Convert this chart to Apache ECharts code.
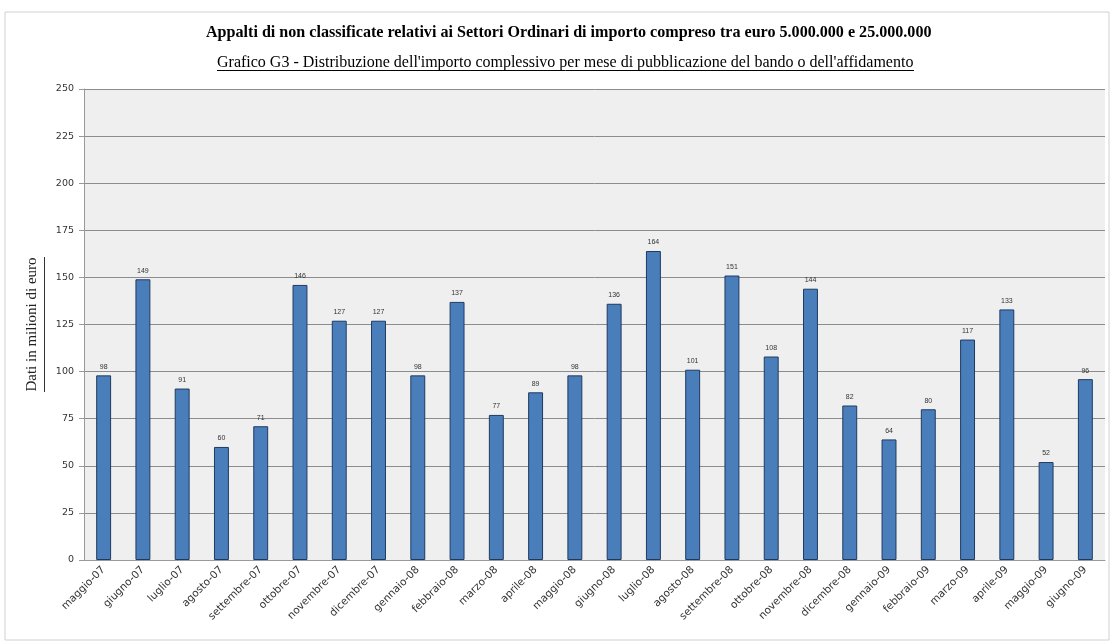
<!DOCTYPE html>
<html><head><meta charset="utf-8">
<script src="https://cdn.jsdelivr.net/npm/echarts@6/dist/echarts.min.js"></script>
<style>html,body{margin:0;padding:0;background:#fff}#c{width:1113px;height:644px}</style>
</head><body><div id="c"></div>
<script>
const categories = ["maggio-07","giugno-07","luglio-07","agosto-07","settembre-07","ottobre-07","novembre-07","dicembre-07","gennaio-08","febbraio-08","marzo-08","aprile-08","maggio-08","giugno-08","luglio-08","agosto-08","settembre-08","ottobre-08","novembre-08","dicembre-08","gennaio-09","febbraio-09","marzo-09","aprile-09","maggio-09","giugno-09"];
const values = [98,149,91,60,71,146,127,127,98,137,77,89,98,136,164,101,151,108,144,82,64,80,117,133,52,96];
const yTicks = [0,25,50,75,100,125,150,175,200,225,250];
const titleText = "Appalti di non classificate relativi ai Settori Ordinari di importo compreso tra euro 5.000.000 e 25.000.000";
const subtitleText = "Grafico G3 - Distribuzione dell'importo complessivo per mese di pubblicazione del bando o dell'affidamento";
const yName = "Dati in milioni di euro";

const chart = echarts.init(document.getElementById('c'));
chart.setOption({
  backgroundColor: '#fff',
  animation: false,
  title: [
    {text: titleText, left: 201, top: 20, textStyle: {fontFamily: 'Liberation Serif', fontSize: 16.1, fontWeight: 'bold', color: '#000'}},
    {text: subtitleText, left: 212, top: 50, textStyle: {fontFamily: 'Liberation Serif', fontSize: 16, fontWeight: 'normal', color: '#000'}}
  ],
  graphic: [
    {type: 'rect', shape: {x: 5, y: 12, width: 1104, height: 628}, style: {fill: 'none', stroke: '#d0d0d0', lineWidth: 1}, silent: true, z: -1},
    {type: 'line', shape: {x1: 217, y1: 70.5, x2: 914, y2: 70.5}, style: {stroke: '#000', lineWidth: 1}, silent: true},
    {type: 'line', shape: {x1: 44.5, y1: 257, x2: 44.5, y2: 392}, style: {stroke: '#333', lineWidth: 1}, silent: true}
  ],
  grid: {left: 84, right: 8, top: 89, bottom: 84, backgroundColor: '#efefef', show: true, borderWidth: 0},
  xAxis: {
    type: 'category', data: categories,
    axisLine: {lineStyle: {color: '#999'}},
    axisTick: {lineStyle: {color: '#c9a0a0'}, length: 4},
    axisLabel: {rotate: 45, fontSize: 10.5, color: '#333', fontFamily: 'DejaVu Sans', margin: 8}
  },
  yAxis: {
    type: 'value', min: 0, max: 250, interval: 25,
    name: yName, nameLocation: 'middle', nameGap: 44, nameRotate: 90,
    nameTextStyle: {fontFamily: 'Liberation Serif', fontSize: 15, color: '#222'},
    axisLine: {show: true, lineStyle: {color: '#999'}},
    axisTick: {show: true, length: 5, lineStyle: {color: '#999'}},
    axisLabel: {fontSize: 9.5, color: '#333', fontFamily: 'DejaVu Sans', margin: 10},
    splitLine: {lineStyle: {color: '#8c8c8c', width: 1}}
  },
  series: [{
    type: 'bar', data: values, barWidth: '38%',
    itemStyle: {color: '#4a7ebb', borderColor: '#1f3a60', borderWidth: 1},
    label: {show: true, position: 'top', fontSize: 7, color: '#333', distance: 5}
  }]
});
</script></body></html>
